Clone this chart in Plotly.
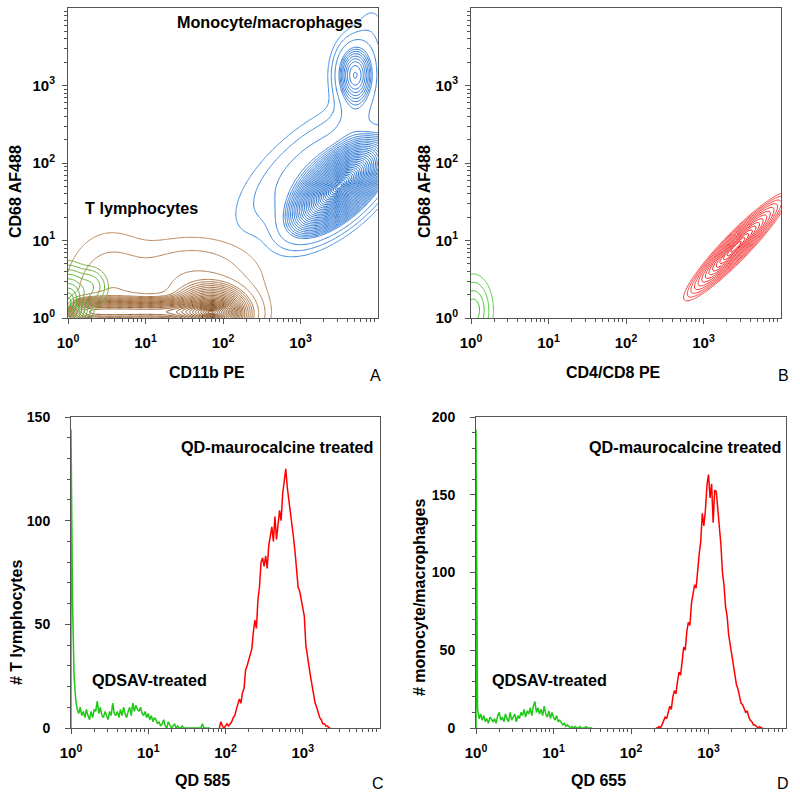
import numpy as np
import plotly.graph_objects as go

# ---------------- data ----------------
# Contour populations (log10 coordinates): centre x, centre y, sigma major, sigma minor, angle (deg), weight, flatness power
A_blue_cx = [3.50, 3.70, 3.15, 3.75]
A_blue_cy = [1.70, 3.14, 1.95, 2.90]
A_blue_sa = [0.34, 0.20, 0.55, 0.50]
A_blue_sb = [0.16, 0.12, 0.23, 0.14]
A_blue_ang = [43, 90, 40, 80]
A_blue_w = [1.0, 0.135, 0.025, 0.02]
A_blue_p = [2, 2, 2, 2]

A_brown_cx = [1.85, 1.12, 0.55, 1.60]
A_brown_cy = [0.05, 0.08, 0.25, 0.50]
A_brown_sa = [0.23, 0.97, 0.30, 0.45]
A_brown_sb = [0.17, 0.08, 0.42, 0.27]
A_brown_ang = [0, 0, 0, 0]
A_brown_w = [1.0, 0.8, 0.03, 0.03]
A_brown_p = [2, 12, 2, 2]

A_green_cx = [0.00, 0.28]
A_green_cy = [0.20, 0.40]
A_green_sa = [0.12, 0.12]
A_green_sb = [0.20, 0.13]
A_green_ang = [0, 0]
A_green_w = [1.0, 0.2]
A_green_p = [2, 2]

B_red_cx = [3.42]
B_red_cy = [0.92]
B_red_sa = [0.33]
B_red_sb = [0.06]
B_red_ang = [46]
B_red_w = [1.0]
B_red_p = [2]

B_green_cx = [0.03]
B_green_cy = [0.10]
B_green_sa = [0.10]
B_green_sb = [0.18]
B_green_ang = [0]
B_green_w = [1.0]
B_green_p = [2]

# Histograms: channel numbers (50 channels per decade) and counts
CH_PER_DECADE = 50
C_green_start = 0
C_green = [144, 60, 25, 14, 9, 7, 10, 6, 8, 5, 9, 6, 4, 8, 5, 9, 8, 13, 7, 10,
           6, 5, 8, 6, 4, 8, 6, 12, 7, 6, 8, 5, 9, 6, 10, 7, 5, 8, 10, 6,
           12, 8, 11, 9, 8, 10, 7, 6, 8, 5, 7, 4, 6, 3, 5, 4, 2, 3, 1, 2,
           4, 1, 0, 3, 1, 0, 1, 2, 0, 1, 0, 0, 1, 0, 0, 0, 0, 0, 0, 0,
           0, 0, 0, 0, 0, 2, 0, 0, 0, 0, 0]
C_red_start = 96
C_red = [0, 3, 1, 0, 1, 2, 1, 2, 3, 5, 6, 9, 12, 14, 12, 17, 19, 28, 30, 33,
         36, 38, 46, 52, 48, 62, 68, 80, 82, 78, 83, 77, 88, 92, 97, 90, 102, 91, 98, 105,
         100, 113, 119, 125, 116, 110, 106, 100, 92, 85, 76, 68, 66, 62, 58, 54, 40, 36, 30, 25,
         20, 16, 12, 10, 7, 5, 4, 2, 2, 1, 1, 0, 0]
D_green_start = 0
D_green = [192, 12, 6, 9, 5, 8, 4, 6, 3, 7, 5, 4, 6, 3, 8, 10, 5, 7, 4, 9,
           6, 4, 10, 5, 7, 9, 4, 8, 6, 10, 8, 12, 7, 11, 9, 13, 8, 14, 17, 10,
           13, 9, 12, 8, 14, 9, 7, 11, 6, 10, 7, 5, 8, 4, 5, 3, 2, 3, 1, 2,
           1, 0, 1, 0, 1, 0, 0, 1, 0, 0, 0, 1, 0, 0, 0, 0]
D_red_start = 116
D_red = [0, 0, 1, 0, 2, 4, 7, 6, 11, 14, 12, 20, 24, 22, 30, 36, 34, 44, 52, 50,
         62, 68, 66, 80, 86, 92, 90, 102, 112, 120, 138, 130, 140, 156, 163, 148, 157, 132, 153, 152,
         140, 126, 118, 100, 92, 78, 72, 60, 54, 46, 40, 34, 28, 25, 20, 16, 15, 12, 10, 11,
         7, 5, 4, 2, 2, 1, 0, 1, 0, 0]

log_ticks = [1, 10, 100, 1000]
log_ticktext = ["10<sup>0</sup>", "10<sup>1</sup>", "10<sup>2</sup>", "10<sup>3</sup>"]
C_yticks = [0, 50, 100, 150]
D_yticks = [0, 50, 100, 150, 200]

# ---------------- helpers ----------------
g = np.linspace(0, 4, 281)
GX, GY = np.meshgrid(g, g)


def density(cx, cy, sa, sb, ang, w, p):
    z = np.zeros_like(GX)
    for x0, y0, s1, s2, a, wi, pw in zip(cx, cy, sa, sb, ang, w, p):
        t = np.deg2rad(a)
        dx, dy = GX - x0, GY - y0
        u = dx * np.cos(t) + dy * np.sin(t)
        v = -dx * np.sin(t) + dy * np.cos(t)
        z += wi * np.exp(-0.5 * (np.abs(u / s1) ** pw + (v / s2) ** 2))
    z = z / z.max()
    return np.sqrt(-2 * np.log(np.maximum(z, 1e-30)))


def contour(z, xa, ya, dark, light, start, end, size, width=1):
    return go.Contour(
        x=10 ** g, y=10 ** g, z=z, xaxis=xa, yaxis=ya,
        contours=dict(coloring="lines", start=start, end=end, size=size, showlabels=False),
        colorscale=[[0, dark], [1, light]], showscale=False,
        line=dict(width=width), hoverinfo="skip",
    )


def hist_xy(start, counts):
    ch = np.arange(start, start + len(counts))
    x = 10 ** (ch / CH_PER_DECADE)
    return np.concatenate([[x[0]], x]), np.concatenate([[0], counts])


fig = go.Figure()

# Panel A
zb = density(A_blue_cx, A_blue_cy, A_blue_sa, A_blue_sb, A_blue_ang, A_blue_w, A_blue_p)
fig.add_trace(contour(zb, "x", "y", "rgb(10,95,200)", "rgb(50,125,215)", 0.12, 2.62, 0.08))
fig.add_trace(contour(zb, "x", "y", "rgb(50,130,220)", "rgb(60,140,225)", 2.9, 3.5, 0.3))
zr = density(A_brown_cx, A_brown_cy, A_brown_sa, A_brown_sb, A_brown_ang, A_brown_w, A_brown_p)
fig.add_trace(contour(zr, "x", "y", "rgb(120,62,12)", "rgb(170,115,65)", 0.12, 2.62, 0.1))
fig.add_trace(contour(zr, "x", "y", "rgb(175,125,80)", "rgb(185,135,90)", 2.85, 3.5, 0.32))
zg = density(A_green_cx, A_green_cy, A_green_sa, A_green_sb, A_green_ang, A_green_w, A_green_p)
fig.add_trace(contour(zg, "x", "y", "rgb(40,190,20)", "rgb(110,170,60)", 0.3, 2.7, 0.3))
# Panel B
fig.add_trace(contour(density(B_red_cx, B_red_cy, B_red_sa, B_red_sb, B_red_ang, B_red_w, B_red_p),
                      "x2", "y2", "rgb(240,0,0)", "rgb(250,60,60)", 0.3, 2.9, 0.2))
fig.add_trace(contour(density(B_green_cx, B_green_cy, B_green_sa, B_green_sb, B_green_ang, B_green_w, B_green_p),
                      "x2", "y2", "rgb(40,200,20)", "rgb(80,210,60)", 0.8, 2.7, 0.6))
# Panel C
x, y = hist_xy(C_green_start, C_green)
fig.add_trace(go.Scatter(x=x, y=y, mode="lines", line=dict(color="rgb(30,200,20)", width=1.5), xaxis="x3", yaxis="y3"))
x, y = hist_xy(C_red_start, C_red)
fig.add_trace(go.Scatter(x=x, y=y, mode="lines", line=dict(color="rgb(255,0,0)", width=1.5), xaxis="x3", yaxis="y3"))
# Panel D
x, y = hist_xy(D_green_start, D_green)
fig.add_trace(go.Scatter(x=x, y=y, mode="lines", line=dict(color="rgb(30,200,20)", width=1.5), xaxis="x4", yaxis="y4"))
x, y = hist_xy(D_red_start, D_red)
fig.add_trace(go.Scatter(x=x, y=y, mode="lines", line=dict(color="rgb(255,0,0)", width=1.5), xaxis="x4", yaxis="y4"))

W, H = 800, 796
FR = "#555555"
TICKFONT = dict(family="Liberation Sans, Arial", size=15, color="black", weight="bold")
YTICKFONT = dict(family="Liberation Sans, Arial", size=14, color="black", weight="bold")
minor_log = [m * 10 ** d for d in range(4) for m in range(2, 10)]


def px(a, b):
    return [a / W, b / W]


def py(top, bottom):
    return [1 - bottom / H, 1 - top / H]


def log_axis(domain, anchor, standoff):
    return dict(domain=domain, anchor=anchor, type="log", range=[0, 4], automargin=False,
                tickvals=log_ticks, ticktext=log_ticktext, ticks="outside", ticklen=5,
                tickcolor=FR, tickfont=TICKFONT, ticklabelstandoff=standoff,
                minor=dict(tickvals=minor_log, ticks="outside", ticklen=3, tickcolor=FR),
                showline=True, linecolor=FR, linewidth=1, mirror=True,
                showgrid=False, zeroline=False)


def lin_axis(domain, anchor, rng, tv):
    return dict(domain=domain, anchor=anchor, range=rng, tickvals=tv, ticks="outside", ticklen=5,
                automargin=False, tickcolor=FR, tickfont=YTICKFONT, ticklabelstandoff=12,
                minor=dict(dtick=10, ticks="outside", ticklen=3, tickcolor=FR),
                showline=True, linecolor=FR, linewidth=1, mirror=True,
                showgrid=False, zeroline=False)


fig.update_layout(
    width=W, height=H, margin=dict(l=0, r=0, t=0, b=0, autoexpand=False),
    paper_bgcolor="white", plot_bgcolor="white", showlegend=False,
    xaxis=log_axis(px(68, 378), "y", 6),
    yaxis=log_axis(py(8, 318), "x", 4),
    xaxis2=log_axis(px(471, 781), "y2", 6),
    yaxis2=log_axis(py(8, 318), "x2", 4),
    xaxis3=log_axis(px(71, 380), "y3", 6),
    yaxis3=lin_axis(py(417, 728), "x3", [0, 150], C_yticks),
    xaxis4=log_axis(px(476, 786), "y4", 6),
    yaxis4=lin_axis(py(417, 728), "x4", [0, 200], D_yticks),
)

BOLD = dict(family="Liberation Sans, Arial", size=16.2, color="black", weight="bold")
TITLE = dict(family="Liberation Sans, Arial", size=16, color="black", weight="bold")
LETTER = dict(family="Liberation Sans, Arial", size=16, color="black")


def ann(text, xp, yp, font, angle=0):
    fig.add_annotation(text=text, x=xp / W, y=1 - yp / H, xref="paper", yref="paper",
                       showarrow=False, font=font, textangle=angle, xanchor="center", yanchor="middle")


ann("Monocyte/macrophages", 269, 22, BOLD)
ann("T lymphocytes", 141, 208, BOLD)
ann("QD-maurocalcine treated", 277, 447, BOLD)
ann("QDSAV-treated", 149, 680, BOLD)
ann("QD-maurocalcine treated", 685, 447, BOLD)
ann("QDSAV-treated", 549, 680, BOLD)

ann("CD11b PE", 207, 372, TITLE)
ann("CD4/CD8 PE", 613, 372, TITLE)
ann("QD 585", 202, 780, TITLE)
ann("QD 655", 598, 780, TITLE)
ann("CD68 AF488", 16, 192, TITLE, -90)
ann("CD68 AF488", 425, 192, TITLE, -90)
ann("# T lymphocytes", 16, 623, TITLE, -90)
ann("# monocyte/macrophages", 419, 597, TITLE, -90)

ann("A", 375, 375, LETTER)
ann("B", 783, 375, LETTER)
ann("C", 378, 783, LETTER)
ann("D", 783, 783, LETTER)

fig.write_html("out.html", config={"displayModeBar": False},
               post_script="document.body.style.margin='0';document.body.style.overflow='hidden';")
